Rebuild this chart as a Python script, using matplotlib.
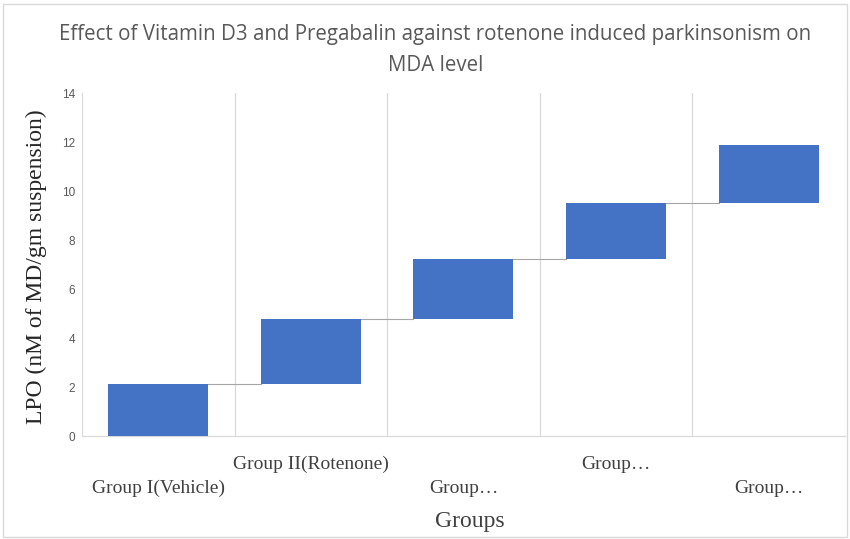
import matplotlib
matplotlib.use("Agg")
import matplotlib.pyplot as plt
from matplotlib.patches import Rectangle

# Waterfall data: increment contributed by each group
groups = ["Group I(Vehicle)", "Group II(Rotenone)", "Group…", "Group…", "Group…"]
increments = [2.12, 2.66, 2.44, 2.29, 2.37]
y_ticks = [0, 2, 4, 6, 8, 10, 12, 14]

title = "Effect of Vitamin D3 and Pregabalin against rotenone induced parkinsonism on\nMDA level"
x_label = "Groups"
y_label = "LPO (nM of MD/gm suspension)"

bar_color = "#4472C4"
grid_color = "#D9D9D9"
connector_color = "#A6A6A6"
text_grey = "#595959"

fig = plt.figure(figsize=(8.5, 5.39), dpi=100)
ax = fig.add_axes([0.0965, 0.191, 0.8975, 0.636])

# cumulative bases for the floating bars
bases = []
running = 0.0
for inc in increments:
    bases.append(running)
    running += inc

xs = list(range(len(groups)))
width = 0.655
ax.bar(xs, increments, bottom=bases, width=width, color=bar_color, zorder=3)

# connector lines between consecutive bars
for i in range(len(groups) - 1):
    level = bases[i] + increments[i]
    ax.plot([xs[i] + width / 2, xs[i + 1] - width / 2], [level, level],
            color=connector_color, lw=0.8, zorder=2)

ax.set_xlim(-0.5, len(groups) - 0.5)
ax.set_ylim(0, 14)
ax.set_yticks(y_ticks)
ax.set_yticklabels([str(t) for t in y_ticks], fontsize=8.5, color=text_grey,
                   family=["Liberation Sans"])

# category separator lines
for b in [i - 0.5 for i in range(len(groups) + 1)]:
    ax.axvline(b, color=grid_color, lw=0.9, zorder=1)

for s in ["top", "right", "left"]:
    ax.spines[s].set_visible(False)
ax.spines["bottom"].set_color(grid_color)
ax.spines["bottom"].set_linewidth(0.9)
ax.tick_params(axis="y", length=0, pad=5)
ax.tick_params(axis="x", length=0)

# staggered category labels
ax.set_xticks([])
for i, g in enumerate(groups):
    y_off = -0.152 if i % 2 == 0 else -0.082
    ax.text(i, y_off, g, transform=ax.get_xaxis_transform(), ha="center", va="center",
            fontsize=14, color="#404040", family=["Liberation Serif"])

fig.text(0.553, 0.033, x_label, ha="center", va="center", fontsize=17,
         color="#404040", family=["Liberation Serif"])
fig.text(0.043, 0.506, y_label, ha="center", va="center", rotation=90,
         fontsize=17, color="#262626", family=["Liberation Serif"])
fig.text(0.512, 0.907, title, ha="center", va="center", fontsize=14.8,
         color=text_grey, linespacing=1.58,
         family=["Liberation Sans Narrow", "Open Sans"])

# chart area border
fig.patches.append(Rectangle((0.004, 0.003), 0.993, 0.99, transform=fig.transFigure,
                             fill=False, edgecolor="#D9D9D9", lw=1.0))

fig.savefig("out.png", dpi=100)
